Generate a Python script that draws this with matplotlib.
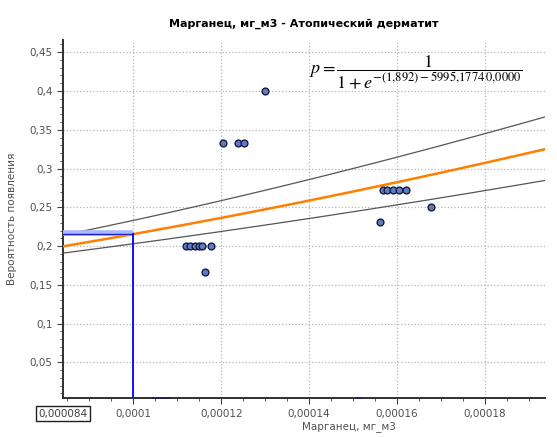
import numpy as np
import matplotlib.pyplot as plt
from matplotlib.ticker import MultipleLocator, FuncFormatter

plt.rcParams['mathtext.fontset'] = 'stix'

# точки наблюдений (x - марганец, y - доля)
pts_x = [0.0001120, 0.0001130, 0.0001140, 0.0001150, 0.0001157, 0.0001177,
         0.0001164, 0.0001205, 0.0001239, 0.0001252, 0.0001300,
         0.0001568, 0.0001577, 0.0001591, 0.0001604, 0.0001620,
         0.0001561, 0.0001677,
         0.0001048, 0.0001058, 0.0001068, 0.0001077, 0.0001511]
pts_y = [0.2, 0.2, 0.2, 0.2, 0.2, 0.2,
         0.1667, 0.3333, 0.3333, 0.3333, 0.4,
         0.2727, 0.2727, 0.2727, 0.2727, 0.2727,
         0.2308, 0.25,
         0.0, 0.0, 0.0, 0.0, 0.0]

# логистическая модель и границы
b0, b1 = -1.892, 5995.1774
up_b0, up_b1 = -1.878, 6873.0
lo_b0, lo_b1 = -1.844, 4764.0
x_sel = 0.0001

xmin, xmax = 0.000084, 0.0001936
ymin, ymax = 0.004, 0.4655

def logit_p(x, a, b):
    return 1.0 / (1.0 + np.exp(-(a + b * x)))

fig = plt.figure(figsize=(5.57, 4.37), dpi=100)
ax = fig.add_axes([0.113, 0.089, 0.865, 0.819])
ax.set_xlim(xmin, xmax)
ax.set_ylim(ymin, ymax)

xx = np.linspace(xmin, xmax, 200)
ax.plot(xx, logit_p(xx, up_b0, up_b1), color='#555555', lw=0.9, zorder=3)
ax.plot(xx, logit_p(xx, lo_b0, lo_b1), color='#555555', lw=0.9, zorder=3)
ax.plot(xx, logit_p(xx, b0, b1), color='#ff7f00', lw=1.8, zorder=4)

p_sel = logit_p(x_sel, b0, b1)
ax.plot([xmin, x_sel], [p_sel + 0.002, p_sel + 0.002], color='#a8b8ff', lw=4, zorder=4, solid_capstyle='butt')
ax.plot([xmin, x_sel], [p_sel, p_sel], color='#2020c0', lw=1.0, zorder=5)
ax.plot([x_sel, x_sel], [ymin, p_sel], color='#0000ff', lw=1.3, zorder=5)

ax.scatter(pts_x, pts_y, s=24, facecolor='#5a7fc8', edgecolor='#1a1a3a', linewidth=1.0, zorder=6)

ax.xaxis.set_major_locator(MultipleLocator(0.00002))
ax.xaxis.set_minor_locator(MultipleLocator(0.000005))
ax.yaxis.set_major_locator(MultipleLocator(0.05))
ax.yaxis.set_minor_locator(MultipleLocator(0.01))

def fmt(v, pos):
    s = ('%.6f' % v).rstrip('0').rstrip('.')
    return s.replace('.', ',')

ax.xaxis.set_major_formatter(FuncFormatter(fmt))
ax.yaxis.set_major_formatter(FuncFormatter(fmt))
ax.tick_params(axis='both', which='major', labelsize=7.5, labelcolor='#505050', length=4, color='#404040')
ax.tick_params(axis='both', which='minor', length=2, color='#404040')

ax.grid(True, which='major', linestyle=':', color='#b4b4b4', lw=0.9)
for s in ['top', 'right']:
    ax.spines[s].set_visible(False)
for s in ['left', 'bottom']:
    ax.spines[s].set_color('#303030')
    ax.spines[s].set_linewidth(1.4)

ax.set_title('Марганец, мг_м3 - Атопический дерматит', fontsize=8, fontweight='bold', pad=10)
ax.set_xlabel('Марганец, мг_м3', fontsize=7.5, color='#505050')
ax.xaxis.set_label_coords(0.593, -0.065)
ax.set_ylabel('Вероятность появления', fontsize=7.5, color='#505050')
ax.yaxis.set_label_coords(-0.095, 0.5)

ax.text(xmin, -0.03, '0,000084', transform=ax.get_xaxis_transform(), ha='center', va='top',
        fontsize=7.5, color='#404040',
        bbox=dict(boxstyle='square,pad=0.25', facecolor='white', edgecolor='#202020', lw=1))

fig.text(0.555, 0.835, r'$p=\dfrac{1}{1+e^{-(1{,}892)-5995{,}1774\,0{,}0000}}$',
         fontsize=13, ha='left', va='center')

plt.savefig('out.png', dpi=100)
